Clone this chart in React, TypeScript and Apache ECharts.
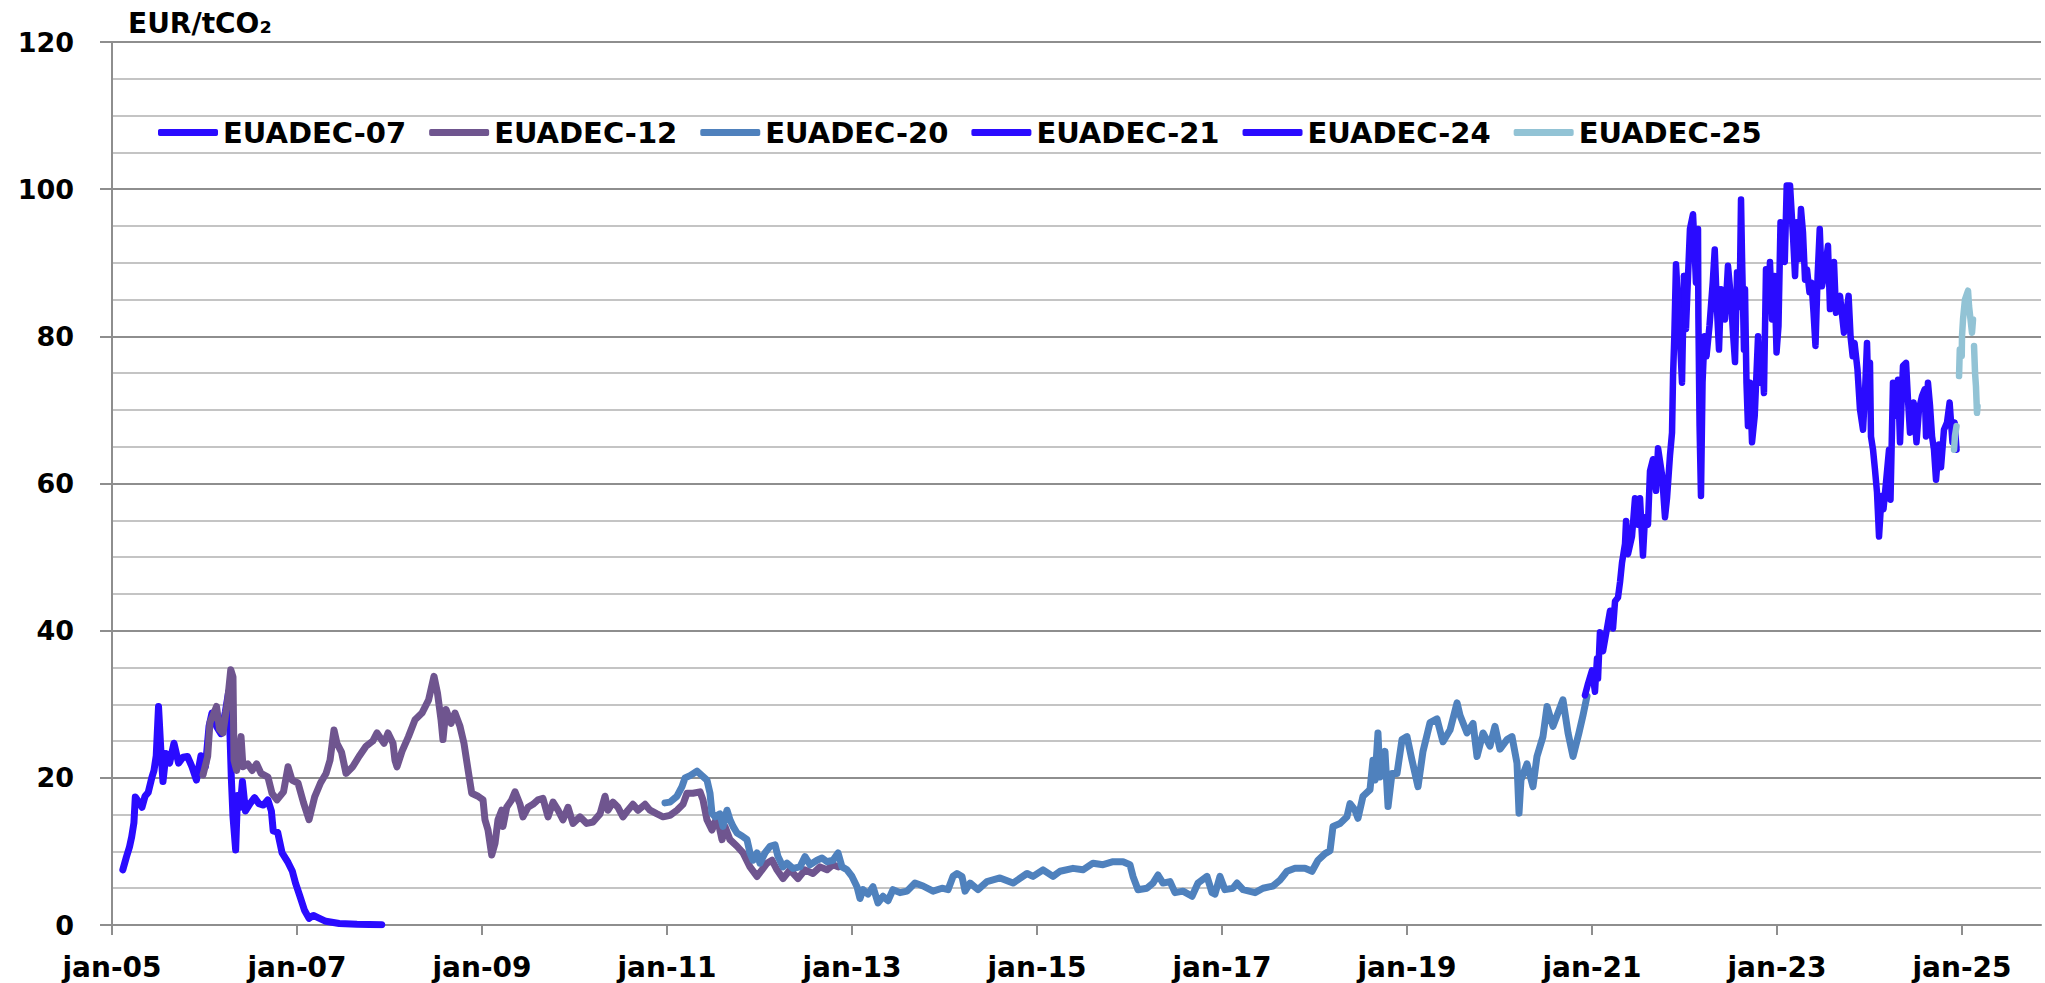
import React, { useEffect, useRef } from 'react';
import * as echarts from 'echarts';

// ---------- Data (decimal years, EUR/tCO2) ----------
const SERIES_NAMES = ['EUADEC-07', 'EUADEC-12', 'EUADEC-20', 'EUADEC-21', 'EUADEC-24', 'EUADEC-25'];
const SERIES_COLORS = ['#2a0bff', '#6f558f', '#4f81bd', '#2a0bff', '#2a0bff', '#92c3d5'];

const X_TICK_YEARS = [2005, 2007, 2009, 2011, 2013, 2015, 2017, 2019, 2021, 2023, 2025];

const euadec07Years = [
  2005.117, 2005.155, 2005.189, 2005.213, 2005.237, 2005.252, 2005.285, 2005.324, 2005.357, 2005.391,
  2005.430, 2005.454, 2005.478, 2005.503, 2005.527, 2005.551, 2005.584, 2005.623, 2005.670, 2005.720,
  2005.768, 2005.816, 2005.865, 2005.913, 2005.962, 2006.010, 2006.049, 2006.081, 2006.130, 2006.178,
  2006.226, 2006.261, 2006.290, 2006.308, 2006.337, 2006.357, 2006.386, 2006.410, 2006.443, 2006.492,
  2006.541, 2006.588, 2006.637, 2006.685, 2006.723, 2006.743, 2006.791, 2006.839, 2006.903, 2006.950,
  2006.984, 2007.032, 2007.081, 2007.130, 2007.177, 2007.226, 2007.312, 2007.457, 2007.649, 2007.916,
];
const euadec07Values = [
  7.5, 9.2, 10.6, 12.0, 13.9, 17.4, 16.8, 16.0, 17.5, 18.0,
  20.0, 21.0, 23.0, 29.7, 24.0, 19.5, 23.3, 22.0, 24.7, 22.0,
  22.8, 22.9, 21.5, 19.7, 23.0, 21.5, 27.0, 28.8, 27.0, 26.0,
  29.0, 31.7, 20.0, 14.7, 10.2, 17.6, 16.0, 19.5, 15.5, 16.5,
  17.3, 16.5, 16.3, 17.0, 15.5, 12.8, 12.6, 9.8, 8.5, 7.3,
  5.7, 3.9, 2.0, 0.9, 1.3, 1.0, 0.5, 0.2, 0.1, 0.05,
];

const euadec12Years = [
  2005.984, 2006.034, 2006.059, 2006.092, 2006.130, 2006.163, 2006.200, 2006.251, 2006.284, 2006.308,
  2006.319, 2006.347, 2006.395, 2006.416, 2006.468, 2006.514, 2006.564, 2006.611, 2006.686, 2006.730,
  2006.784, 2006.854, 2006.903, 2006.946, 2007.011, 2007.071, 2007.130, 2007.191, 2007.254, 2007.314,
  2007.357, 2007.400, 2007.432, 2007.481, 2007.530, 2007.602, 2007.670, 2007.746, 2007.819, 2007.865,
  2007.941, 2007.984, 2008.038, 2008.059, 2008.081, 2008.135, 2008.205, 2008.276, 2008.351, 2008.423,
  2008.481, 2008.519, 2008.557, 2008.578, 2008.611, 2008.665, 2008.708, 2008.762, 2008.805, 2008.849,
  2008.889, 2008.957, 2009.011, 2009.032, 2009.065, 2009.105, 2009.141, 2009.173, 2009.213, 2009.227,
  2009.267, 2009.321, 2009.357, 2009.411, 2009.443, 2009.497, 2009.551, 2009.605, 2009.659, 2009.714,
  2009.768, 2009.822, 2009.876, 2009.930, 2009.984, 2010.059, 2010.132, 2010.200, 2010.276, 2010.330,
  2010.362, 2010.416, 2010.470, 2010.524, 2010.578, 2010.632, 2010.686, 2010.762, 2010.816, 2010.892,
  2010.957, 2011.032, 2011.108, 2011.173, 2011.216, 2011.281, 2011.357, 2011.389, 2011.432, 2011.486,
  2011.541, 2011.595, 2011.627, 2011.681, 2011.757, 2011.822, 2011.897, 2011.973, 2012.027, 2012.081,
  2012.135, 2012.189, 2012.254, 2012.330, 2012.416, 2012.492, 2012.578, 2012.654, 2012.730, 2012.795,
  2012.849,
];
const euadec12Values = [
  20.4, 22.9, 27.5, 28.5, 29.7, 26.6, 26.1, 30.6, 34.7, 33.7,
  22.4, 21.0, 25.6, 21.5, 21.9, 21.0, 21.9, 20.6, 20.1, 17.9,
  17.0, 18.1, 21.5, 19.7, 19.3, 16.6, 14.3, 17.4, 19.3, 20.6,
  22.4, 26.5, 24.7, 23.5, 20.6, 21.5, 22.9, 24.3, 25.0, 26.1,
  24.7, 26.1, 24.7, 22.4, 21.5, 23.6, 25.6, 27.9, 28.8, 30.6,
  33.8, 31.5, 27.9, 25.2, 29.3, 27.4, 28.8, 27.0, 24.7, 21.1,
  17.9, 17.5, 17.0, 14.3, 12.9, 9.5, 11.1, 14.3, 15.6, 13.4,
  16.0, 17.0, 18.1, 16.4, 14.7, 16.0, 16.4, 17.0, 17.2, 14.7,
  16.7, 15.6, 14.3, 16.0, 13.8, 14.7, 13.8, 14.0, 15.1, 17.5,
  15.6, 16.7, 16.0, 14.7, 15.6, 16.4, 15.6, 16.4, 15.6, 15.1,
  14.7, 14.9, 15.6, 16.4, 17.9, 17.9, 18.1, 17.0, 14.3, 12.9,
  14.7, 11.6, 13.4, 11.6, 10.7, 9.8, 7.9, 6.6, 7.5, 8.4,
  8.8, 7.5, 6.3, 7.5, 6.3, 7.5, 7.0, 7.9, 7.5, 8.2,
  7.9,
];

const euadec20Years = [
  2010.978, 2011.032, 2011.108, 2011.162, 2011.195, 2011.249, 2011.324, 2011.378, 2011.432, 2011.465,
  2011.486, 2011.519, 2011.573, 2011.605, 2011.649, 2011.681, 2011.714, 2011.757, 2011.811, 2011.865,
  2011.897, 2011.930, 2011.973, 2012.005, 2012.059, 2012.114, 2012.168, 2012.200, 2012.254, 2012.297,
  2012.362, 2012.438, 2012.492, 2012.546, 2012.622, 2012.676, 2012.730, 2012.795, 2012.849, 2012.892,
  2012.946, 2013.000, 2013.054, 2013.086, 2013.119, 2013.173, 2013.227, 2013.281, 2013.335, 2013.389,
  2013.443, 2013.519, 2013.595, 2013.681, 2013.768, 2013.876, 2013.973, 2014.038, 2014.092, 2014.135,
  2014.189, 2014.222, 2014.276, 2014.362, 2014.459, 2014.600, 2014.741, 2014.892, 2014.957, 2015.065,
  2015.173, 2015.249, 2015.389, 2015.497, 2015.605, 2015.714, 2015.822, 2015.930, 2016.005, 2016.038,
  2016.092, 2016.189, 2016.254, 2016.308, 2016.362, 2016.438, 2016.492, 2016.578, 2016.676, 2016.741,
  2016.838, 2016.892, 2016.924, 2016.978, 2017.032, 2017.119, 2017.162, 2017.227, 2017.357, 2017.443,
  2017.551, 2017.627, 2017.703, 2017.789, 2017.897, 2017.973, 2018.038, 2018.114, 2018.168, 2018.200,
  2018.276, 2018.351, 2018.384, 2018.438, 2018.470, 2018.524, 2018.600, 2018.632, 2018.654, 2018.686,
  2018.708, 2018.762, 2018.795, 2018.838, 2018.892, 2018.946, 2019.000, 2019.054, 2019.119, 2019.173,
  2019.249, 2019.324, 2019.389, 2019.465, 2019.541, 2019.573, 2019.649, 2019.714, 2019.757, 2019.822,
  2019.897, 2019.951, 2020.005, 2020.081, 2020.135, 2020.189, 2020.211, 2020.232, 2020.297, 2020.362,
  2020.405, 2020.470, 2020.514, 2020.578, 2020.686, 2020.741, 2020.795, 2020.859, 2020.903, 2020.946,
];
const euadec20Values = [
  16.6, 16.7, 17.5, 18.8, 20.0, 20.3, 20.9, 20.3, 19.7, 17.9,
  15.2, 14.7, 15.1, 13.4, 15.6, 14.3, 13.4, 12.5, 12.1, 11.6,
  9.8, 8.8, 9.8, 8.4, 9.8, 10.7, 10.9, 9.3, 7.9, 8.4,
  7.7, 7.9, 9.3, 8.2, 8.8, 9.1, 8.6, 8.8, 9.8, 7.9,
  7.5, 6.6, 5.2, 3.6, 4.8, 4.2, 5.2, 3.0, 3.9, 3.3,
  4.8, 4.4, 4.6, 5.7, 5.3, 4.6, 5.0, 4.8, 6.6, 7.0,
  6.6, 4.6, 5.7, 4.8, 5.9, 6.4, 5.7, 7.0, 6.6, 7.5,
  6.6, 7.3, 7.7, 7.5, 8.4, 8.2, 8.6, 8.6, 8.2, 6.6,
  4.8, 5.0, 5.7, 6.8, 5.7, 5.9, 4.4, 4.6, 3.9, 5.7,
  6.6, 4.4, 4.2, 6.6, 4.8, 5.0, 5.7, 4.8, 4.4, 5.0,
  5.3, 6.1, 7.3, 7.7, 7.7, 7.3, 8.8, 9.7, 10.1, 13.4,
  13.8, 14.7, 16.5, 15.6, 14.5, 17.5, 18.4, 22.4, 19.7, 26.1,
  20.1, 23.6, 16.1, 20.6, 20.6, 25.2, 25.6, 22.4, 18.8, 23.6,
  27.5, 28.0, 24.9, 26.5, 30.2, 28.5, 26.1, 27.4, 22.9, 26.1,
  24.3, 27.0, 23.9, 25.2, 25.6, 22.0, 15.2, 19.7, 21.9, 18.8,
  22.9, 25.6, 29.7, 27.0, 30.6, 26.1, 22.9, 26.1, 28.5, 31.1,
];

const euadec21Years = [
  2020.924, 2020.957, 2021.000, 2021.032, 2021.054, 2021.065, 2021.086, 2021.119, 2021.162, 2021.195,
  2021.227, 2021.249, 2021.281, 2021.303, 2021.324, 2021.357, 2021.368, 2021.389, 2021.432, 2021.465,
  2021.497, 2021.519, 2021.551, 2021.573, 2021.605, 2021.627, 2021.659, 2021.692, 2021.714, 2021.757,
  2021.789, 2021.811, 2021.843, 2021.865, 2021.876, 2021.890, 2021.908, 2021.946, 2021.973, 2021.995,
];
const euadec21Values = [
  31.2, 32.8, 34.6, 31.7, 36.2, 33.5, 39.8, 37.2, 40.3, 42.7,
  40.3, 44.0, 44.5, 46.6, 49.2, 51.8, 54.9, 50.4, 52.8, 58.0,
  54.4, 58.0, 50.2, 55.4, 54.4, 61.7, 63.3, 59.0, 64.8, 61.2,
  55.4, 58.0, 63.8, 66.9, 74.6, 80.0, 89.8, 81.0, 73.7, 88.2,
];

const euadec24Years = [
  2021.995, 2022.016, 2022.038, 2022.059, 2022.092, 2022.103, 2022.124, 2022.146, 2022.150, 2022.163,
  2022.178, 2022.195, 2022.216, 2022.238, 2022.270, 2022.305, 2022.327, 2022.351, 2022.373, 2022.395,
  2022.438, 2022.470, 2022.503, 2022.524, 2022.546, 2022.568, 2022.595, 2022.611, 2022.622, 2022.643,
  2022.654, 2022.670, 2022.686, 2022.708, 2022.730, 2022.759, 2022.795, 2022.816, 2022.838, 2022.859,
  2022.881, 2022.903, 2022.924, 2022.946, 2022.973, 2022.995, 2023.016, 2023.038, 2023.061, 2023.084,
  2023.105, 2023.141, 2023.173, 2023.195, 2023.216, 2023.238, 2023.259, 2023.281, 2023.303, 2023.324,
  2023.351, 2023.373, 2023.395, 2023.416, 2023.439, 2023.462, 2023.486, 2023.508, 2023.551, 2023.573,
  2023.595, 2023.616, 2023.638, 2023.681, 2023.724, 2023.774, 2023.795, 2023.818, 2023.838, 2023.870,
  2023.897, 2023.930, 2023.951, 2023.973, 2023.984, 2024.005, 2024.016, 2024.038, 2024.059, 2024.081,
  2024.103, 2024.130, 2024.151, 2024.178, 2024.211, 2024.227, 2024.254, 2024.286, 2024.308, 2024.330,
  2024.362, 2024.395, 2024.416, 2024.438, 2024.477, 2024.508, 2024.535, 2024.568, 2024.597, 2024.611,
  2024.632, 2024.654, 2024.676, 2024.697, 2024.719, 2024.751, 2024.773, 2024.805, 2024.838, 2024.866,
  2024.897, 2024.920, 2024.941,
];
const euadec24Values = [
  88.2, 81.0, 88.2, 94.6, 96.6, 93.6, 87.3, 94.6, 82.8, 67.8,
  58.3, 73.7, 80.0, 77.3, 81.4, 87.3, 91.8, 83.7, 78.2, 86.4,
  82.3, 89.6, 85.0, 80.5, 76.5, 88.7, 84.0, 98.6, 90.7, 78.2,
  86.4, 73.7, 67.8, 73.7, 65.6, 69.2, 80.0, 73.7, 78.2, 72.3,
  89.1, 83.7, 90.1, 82.3, 88.2, 77.8, 81.4, 95.5, 90.9, 90.1,
  100.5, 100.5, 93.6, 88.2, 95.5, 90.5, 97.3, 94.1, 87.7, 89.1,
  86.0, 87.3, 83.2, 78.7, 88.2, 94.6, 86.8, 88.2, 92.3, 83.7,
  86.8, 90.1, 83.2, 85.5, 80.5, 85.5, 80.0, 77.3, 79.1, 75.5,
  70.1, 67.3, 72.3, 79.1, 73.9, 76.4, 66.4, 64.6, 61.9, 58.8,
  52.8, 58.3, 56.5, 60.1, 64.6, 57.8, 73.7, 69.2, 74.1, 65.6,
  76.0, 76.4, 71.4, 66.9, 71.0, 65.6, 70.1, 71.9, 72.8, 66.4,
  73.7, 70.6, 66.4, 64.6, 60.5, 65.3, 62.2, 67.3, 68.3, 71.0,
  65.6, 68.3, 64.6,
];

const euadec25Years = [
  2024.914, 2024.924, 2024.941, 2024.955, 2024.968, 2024.976, 2024.997, 2025.000, 2025.011, 2025.032,
  2025.065, 2025.076, 2025.108, 2025.119, 2025.124, 2025.130, 2025.141, 2025.151, 2025.162, 2025.168,
];
const euadec25Values = [
  64.6, 66.5, 67.8, null, 74.6, 78.2, 77.3, 80.0, 82.3, 85.0,
  86.2, 84.1, 80.5, 82.3, null, 78.7, 75.0, 73.2, 69.6, 70.5,
];

const BASE_YEAR = 2005;
const X_MAX_YEARS = 20.854;

function toPoints(years: number[], values: (number | null)[]) {
  return years.map((y, i) => [+(y - BASE_YEAR).toFixed(3), values[i] === null ? null : values[i]]);
}

const SERIES_DATA = [
  toPoints(euadec07Years, euadec07Values),
  toPoints(euadec12Years, euadec12Values),
  toPoints(euadec20Years, euadec20Values),
  toPoints(euadec21Years, euadec21Values),
  toPoints(euadec24Years, euadec24Values),
  toPoints(euadec25Years, euadec25Values),
];
const LINE_WIDTHS = [7, 7, 7, 6.5, 6.5, 6.5];

const FONT = '"DejaVu Sans", Verdana, sans-serif';
const GRID_DARK = '#8e8e8e';
const GRID_LIGHT = '#c4c4c4';

export default function App() {
  const ref = useRef<HTMLDivElement>(null);

  useEffect(() => {
    if (!ref.current) return;
    const chart = echarts.init(ref.current, undefined, { renderer: 'svg' });
    const option: any = {
      animation: false,
      backgroundColor: '#ffffff',
      title: {
        text: 'EUR/tCO₂',
        left: 128,
        top: 9,
        padding: 0,
        textStyle: { fontFamily: FONT, fontWeight: 'bold', fontSize: 28, color: '#000' },
      },
      legend: {
        data: SERIES_NAMES,
        left: 158,
        top: 118,
        icon: 'roundRect',
        itemWidth: 60,
        itemHeight: 7,
        itemGap: 23,
        padding: 0,
        textStyle: { fontFamily: FONT, fontWeight: 'bold', fontSize: 29, color: '#000' },
      },
      grid: { left: 112, right: 4, top: 42, bottom: 58, containLabel: false },
      xAxis: {
        type: 'value',
        min: 0,
        max: X_MAX_YEARS,
        interval: 2,
        splitLine: { show: false },
        axisLine: { show: true, onZero: false, lineStyle: { color: GRID_DARK, width: 2 } },
        axisTick: {
          show: true,
          length: 10,
          customValues: X_TICK_YEARS.map((y) => y - BASE_YEAR),
          lineStyle: { color: GRID_DARK, width: 2 },
        },
        axisLabel: {
          customValues: X_TICK_YEARS.map((y) => y - BASE_YEAR),
          margin: 28,
          fontFamily: FONT,
          fontWeight: 'bold',
          fontSize: 28,
          color: '#000',
          formatter: (v: number) => 'jan-' + String((BASE_YEAR + Math.round(v)) % 100).padStart(2, '0'),
        },
      },
      yAxis: {
        type: 'value',
        min: 0,
        max: 120,
        interval: 20,
        axisLine: { show: true, lineStyle: { color: GRID_DARK, width: 2 } },
        axisTick: {
          show: true,
          length: 12,
          lineStyle: { color: GRID_DARK, width: 2 },
        },
        axisLabel: {
          margin: 38,
          fontFamily: FONT,
          fontWeight: 'bold',
          fontSize: 27,
          color: '#000',
        },
        splitLine: {
          show: true,
          lineStyle: { color: GRID_DARK, width: 2 },
        },
        minorTick: { show: false, splitNumber: 4 },
        minorSplitLine: {
          show: true,
          lineStyle: { color: GRID_LIGHT, width: 2 },
        },
      },
      series: SERIES_NAMES.map((name, i) => ({
        name,
        type: 'line',
        data: SERIES_DATA[i],
        showSymbol: false,
        symbol: 'none',
        connectNulls: false,
        color: SERIES_COLORS[i],
        lineStyle: { color: SERIES_COLORS[i], width: LINE_WIDTHS[i], cap: 'round', join: 'round' },
        z: 2 + i,
      })),
    };
    chart.setOption(option);
    return () => chart.dispose();
  }, []);

  return (
    <div
      ref={ref}
      style={{ position: 'fixed', left: 0, top: 0, width: 2045, height: 983, background: '#fff' }}
    />
  );
}
